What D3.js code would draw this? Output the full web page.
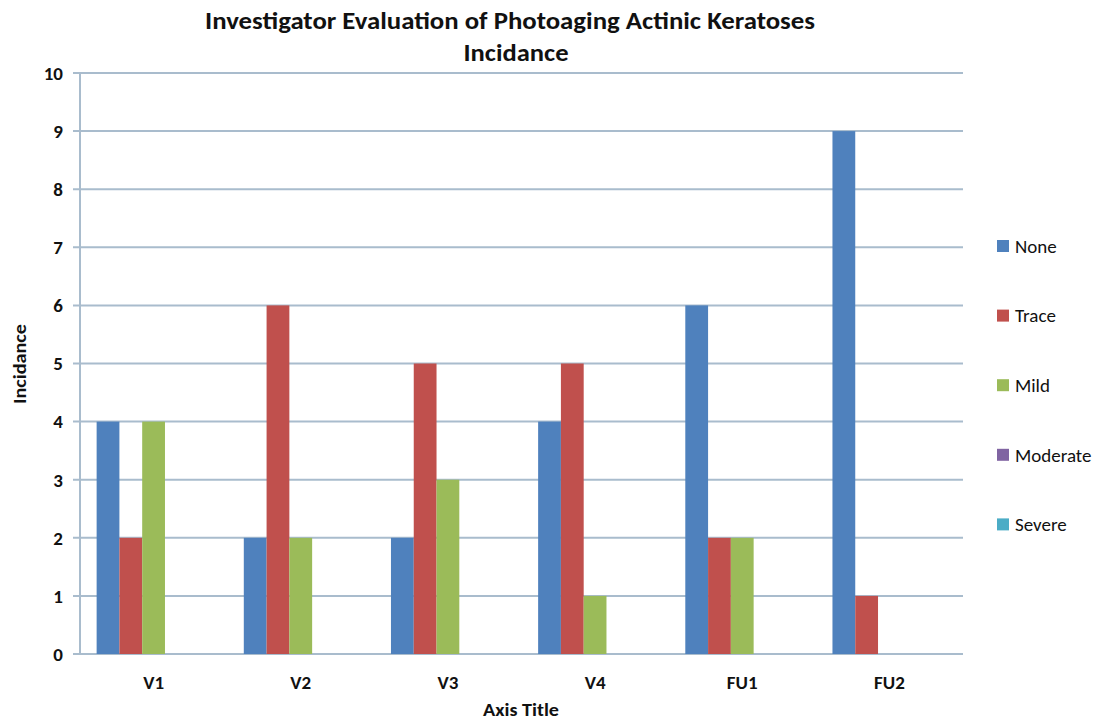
<!DOCTYPE html>
<html>
<head>
<meta charset="utf-8">
<script src="https://cdn.jsdelivr.net/npm/d3@7"></script>
<style>
  body { margin: 0; background: #fff; }
  svg { display: block; font-family: Carlito, "Liberation Sans Narrow", "Open Sans", sans-serif; }
</style>
</head>
<body>
<svg width="1093" height="721"></svg>
<script>
(function(){
  var categories = ["V1", "V2", "V3", "V4", "FU1", "FU2"];
  var seriesNames = ["None", "Trace", "Mild", "Moderate", "Severe"];
  var noneVals = [4, 2, 2, 4, 6, 9];
  var traceVals = [2, 6, 5, 5, 2, 1];
  var mildVals = [4, 2, 3, 1, 2, 0];
  var moderateVals = [0, 0, 0, 0, 0, 0];
  var severeVals = [0, 0, 0, 0, 0, 0];
  var yTicks = [0, 1, 2, 3, 4, 5, 6, 7, 8, 9, 10];
  var colors = ["#4f81bd", "#c0504d", "#9bbb59", "#8064a2", "#4bacc6"];

  var values = [noneVals, traceVals, mildVals, moderateVals, severeVals];
  var svg = d3.select("svg");
  var left = 80, right = 963, top = 73, bottom = 654;

  var x0 = d3.scaleBand().domain(categories).range([left, right]).padding(0);
  var x1 = d3.scaleBand().domain(seriesNames).range([0, x0.bandwidth()])
    .paddingInner(0).paddingOuter(0.73);
  var y = d3.scaleLinear().domain([0, 10]).range([bottom, top]);

  // gridlines
  svg.append("g").selectAll("line").data(yTicks).enter().append("line")
    .attr("x1", left - 7).attr("x2", right)
    .attr("y1", function(d){ return y(d); })
    .attr("y2", function(d){ return y(d); })
    .style("stroke", "#a9bccd").style("stroke-width", 2);

  // bars
  var groups = svg.append("g").selectAll("g").data(categories).enter().append("g")
    .attr("transform", function(d){ return "translate(" + x0(d) + ",0)"; });
  groups.selectAll("rect")
    .data(function(c, ci){ return seriesNames.map(function(s, si){ return {s: s, i: si, v: values[si][ci]}; }); })
    .enter().append("rect")
      .attr("x", function(d){ return x1(d.s); })
      .attr("width", x1.bandwidth())
      .attr("y", function(d){ return y(d.v); })
      .attr("height", function(d){ return y(0) - y(d.v); })
      .style("fill", function(d){ return colors[d.i]; });

  // y axis line
  svg.append("line").attr("x1", left).attr("x2", left).attr("y1", top).attr("y2", bottom)
    .style("stroke", "#a9bccd").style("stroke-width", 2);

  // y tick labels
  svg.append("g").selectAll("text").data(yTicks).enter().append("text")
    .attr("x", 63).attr("y", function(d){ return y(d); })
    .attr("dy", "0.36em").attr("text-anchor", "end")
    .style("font-size", "19px").style("font-weight", "bold").style("fill", "#111")
    .text(function(d){ return d; });

  // x tick labels
  svg.append("g").selectAll("text").data(categories).enter().append("text")
    .attr("x", function(d){ return x0(d) + x0.bandwidth() / 2; })
    .attr("y", 689).attr("text-anchor", "middle")
    .style("font-size", "19px").style("font-weight", "bold").style("fill", "#111")
    .text(function(d){ return d; });

  // titles
  svg.append("text").attr("x", 510).attr("y", 29).attr("text-anchor", "middle")
    .attr("textLength", 610).attr("lengthAdjust", "spacingAndGlyphs")
    .style("font-size", "25px").style("font-weight", "bold").style("fill", "#111")
    .text("Investigator Evaluation of Photoaging Actinic Keratoses");
  svg.append("text").attr("x", 516).attr("y", 61).attr("text-anchor", "middle")
    .attr("textLength", 105).attr("lengthAdjust", "spacingAndGlyphs")
    .style("font-size", "25px").style("font-weight", "bold").style("fill", "#111")
    .text("Incidance");
  svg.append("text").attr("x", 521).attr("y", 716).attr("text-anchor", "middle")
    .attr("textLength", 76).attr("lengthAdjust", "spacingAndGlyphs")
    .style("font-size", "17px").style("font-weight", "bold").style("fill", "#111")
    .text("Axis Title");
  svg.append("text").attr("transform", "translate(26,364) rotate(-90)")
    .attr("text-anchor", "middle")
    .attr("textLength", 80).attr("lengthAdjust", "spacingAndGlyphs")
    .style("font-size", "17px").style("font-weight", "bold").style("fill", "#111")
    .text("Incidance");

  // legend
  var legend = svg.append("g").selectAll("g").data(seriesNames).enter().append("g")
    .attr("transform", function(d, i){ return "translate(997," + (246 + i * 69.6) + ")"; });
  legend.append("rect").attr("x", 0).attr("y", -6).attr("width", 12).attr("height", 12)
    .style("fill", function(d, i){ return colors[i]; });
  legend.append("text").attr("x", 18).attr("dy", "0.36em")
    .style("font-size", "19px").style("fill", "#111")
    .text(function(d){ return d; });
})();
</script>
</body>
</html>
